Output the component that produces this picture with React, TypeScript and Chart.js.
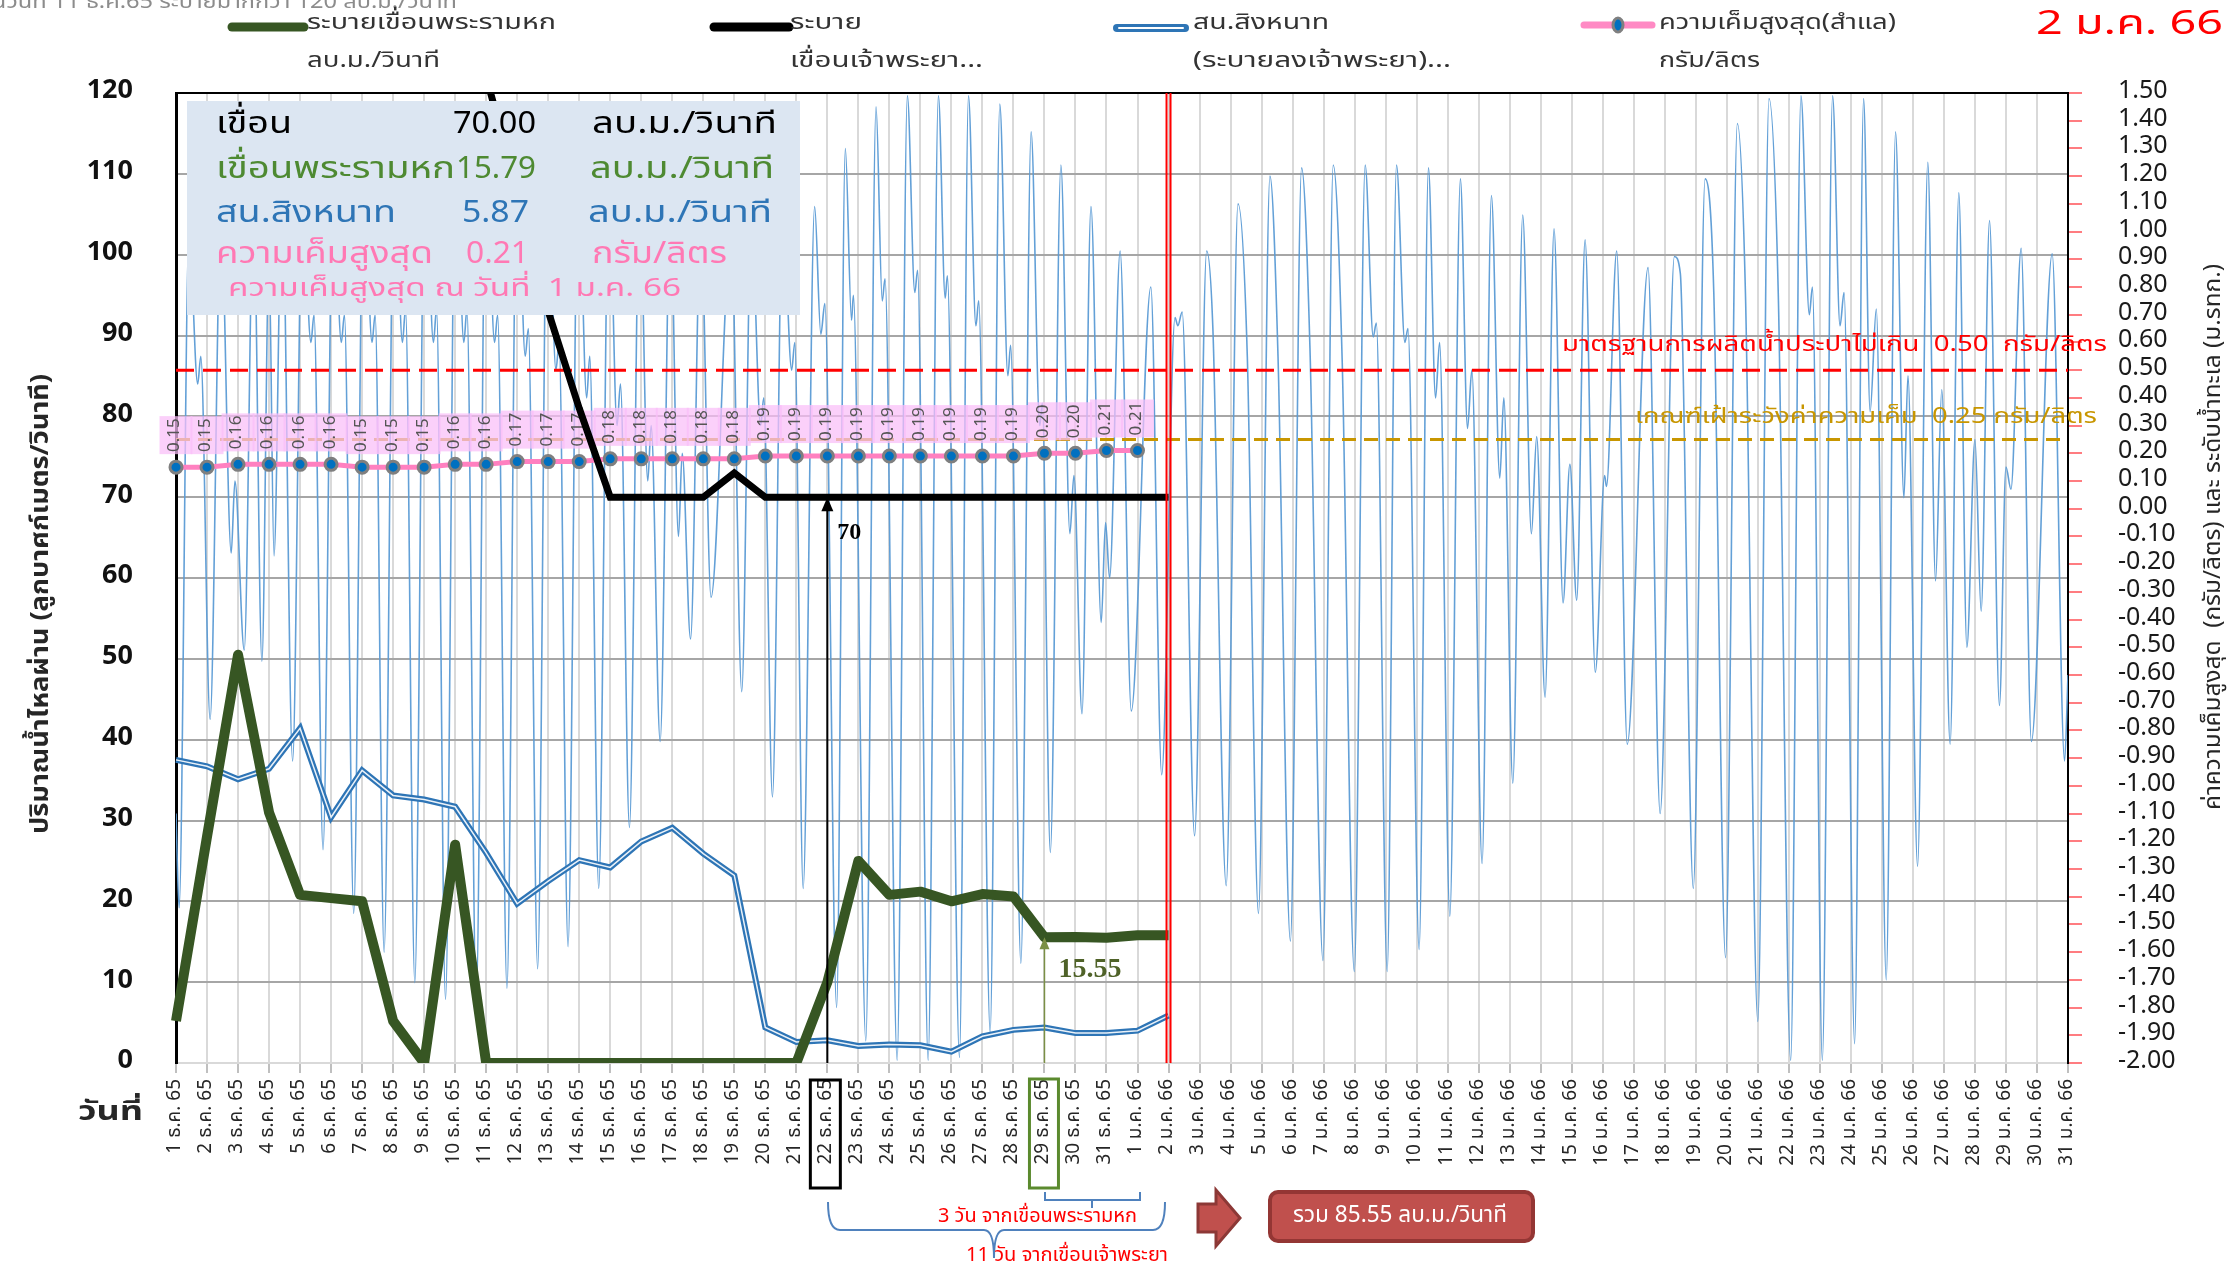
import React, { useEffect, useRef } from "react";
import { Chart, registerables } from "chart.js";

Chart.register(...registerables);

const FONT = "Tahoma, 'Noto Sans Thai', 'Noto Sans', 'DejaVu Sans', sans-serif";
const SERIF = "'Liberation Serif', 'DejaVu Serif', serif";

const dayLabels = [
  "1 ธ.ค. 65", "2 ธ.ค. 65", "3 ธ.ค. 65", "4 ธ.ค. 65", "5 ธ.ค. 65", "6 ธ.ค. 65", "7 ธ.ค. 65", "8 ธ.ค. 65",
  "9 ธ.ค. 65", "10 ธ.ค. 65", "11 ธ.ค. 65", "12 ธ.ค. 65", "13 ธ.ค. 65", "14 ธ.ค. 65", "15 ธ.ค. 65", "16 ธ.ค. 65",
  "17 ธ.ค. 65", "18 ธ.ค. 65", "19 ธ.ค. 65", "20 ธ.ค. 65", "21 ธ.ค. 65", "22 ธ.ค. 65", "23 ธ.ค. 65", "24 ธ.ค. 65",
  "25 ธ.ค. 65", "26 ธ.ค. 65", "27 ธ.ค. 65", "28 ธ.ค. 65", "29 ธ.ค. 65", "30 ธ.ค. 65", "31 ธ.ค. 65",
  "1 ม.ค. 66", "2 ม.ค. 66", "3 ม.ค. 66", "4 ม.ค. 66", "5 ม.ค. 66", "6 ม.ค. 66", "7 ม.ค. 66", "8 ม.ค. 66",
  "9 ม.ค. 66", "10 ม.ค. 66", "11 ม.ค. 66", "12 ม.ค. 66", "13 ม.ค. 66", "14 ม.ค. 66", "15 ม.ค. 66", "16 ม.ค. 66",
  "17 ม.ค. 66", "18 ม.ค. 66", "19 ม.ค. 66", "20 ม.ค. 66", "21 ม.ค. 66", "22 ม.ค. 66", "23 ม.ค. 66", "24 ม.ค. 66",
  "25 ม.ค. 66", "26 ม.ค. 66", "27 ม.ค. 66", "28 ม.ค. 66", "29 ม.ค. 66", "30 ม.ค. 66", "31 ม.ค. 66",
];

// Left axis (m3/s)
const chaoPhrayaDam = [
  null, null, null, null, null, null, null, null, null, null,
  122, 108, 93, 81, 70, 70, 70, 70, 73, 70, 70, 70, 70, 70, 70, 70, 70, 70, 70, 70, 70, 70, 70,
];
const phraRamHokDam = [
  5.2, 28, 50.5, 31, 20.8, 20.4, 20, 5.2, 0, 27, 0, 0, 0, 0, 0, 0, 0, 0, 0, 0, 0,
  10, 25, 20.8, 21.2, 20.0, 20.9, 20.6, 15.55, 15.6, 15.5, 15.8, 15.79,
];
const singhanat = [
  37.5, 36.7, 35.1, 36.4, 41.4, 30.4, 36.2, 33.1, 32.6, 31.7, 26.0, 19.7, 22.5, 25.1, 24.2, 27.4, 29.1,
  25.9, 23.2, 4.4, 2.6, 2.8, 2.1, 2.3, 2.2, 1.4, 3.3, 4.1, 4.4, 3.7, 3.7, 4.0, 5.87,
];
// Right axis (g/l)
const salinity = [
  0.15, 0.15, 0.16, 0.16, 0.16, 0.16, 0.15, 0.15, 0.15, 0.16, 0.16, 0.17, 0.17, 0.17, 0.18, 0.18,
  0.18, 0.18, 0.18, 0.19, 0.19, 0.19, 0.19, 0.19, 0.19, 0.19, 0.19, 0.19, 0.20, 0.20, 0.21, 0.21,
];
// Sea level (m MSL), day position (0 = 1 Dec) and level
const tideX = [
  0.0, 0.1, 0.42, 0.7, 0.8, 1.1, 1.45, 1.78, 1.9, 2.2, 2.5, 2.77, 3.0, 3.16, 3.42, 3.76,
  4.08, 4.35, 4.45, 4.74, 5.07, 5.33, 5.43, 5.73, 6.05, 6.32, 6.42, 6.71, 7.04, 7.3, 7.4, 7.7,
  8.03, 8.3, 8.4, 8.69, 9.02, 9.28, 9.38, 9.68, 10.0, 10.27, 10.37, 10.67, 11.0, 11.26, 11.36, 11.66,
  11.98, 12.25, 12.35, 12.64, 12.97, 13.24, 13.34, 13.63, 13.96, 14.22, 14.33, 14.62, 14.95, 15.21, 15.32, 15.61,
  15.94, 16.2, 16.32, 16.59, 16.92, 17.25, 17.9, 18.24, 18.55, 18.85, 18.95, 19.23, 19.56, 19.85, 19.95, 20.22,
  20.59, 20.79, 20.92, 21.3, 21.58, 21.78, 21.84, 22.24, 22.57, 22.77, 22.86, 23.25, 23.58, 23.82, 23.91, 24.25,
  24.58, 24.8, 24.87, 25.26, 25.55, 25.79, 25.88, 26.25, 26.56, 26.82, 26.91, 27.24, 27.57, 27.85, 27.93, 28.19,
  28.53, 28.82, 28.95, 29.21, 29.5, 29.83, 29.97, 30.1, 30.44, 30.8, 31.43, 31.78, 32.21, 32.3, 32.44, 32.84,
  33.23, 33.43, 33.86, 34.24, 34.54, 34.9, 35.27, 35.53, 35.93, 36.29, 36.56, 36.98, 37.31, 37.6, 37.99, 38.34,
  38.6, 38.7, 39.05, 39.35, 39.62, 39.72, 40.08, 40.38, 40.61, 40.74, 41.07, 41.41, 41.64, 41.78, 42.11, 42.41,
  42.68, 42.81, 43.1, 43.42, 43.7, 43.87, 44.14, 44.43, 44.72, 44.94, 45.16, 45.43, 45.76, 46.06, 46.12, 46.45,
  46.79, 47.46, 47.85, 48.31, 48.5, 48.92, 49.3, 49.58, 49.96, 50.34, 50.6, 51.0, 51.36, 51.66, 52.06, 52.39,
  52.66, 52.76, 53.08, 53.41, 53.65, 53.78, 54.12, 54.41, 54.62, 54.82, 55.14, 55.44, 55.71, 55.84, 56.15, 56.48,
  56.73, 56.93, 57.2, 57.48, 57.74, 58.0, 58.2, 58.47, 58.79, 59.0, 59.16, 59.49, 59.82, 60.49, 60.89, 61.0,
];
const tideY = [
  -1.1, -1.44, 1.0, 0.45, 0.55, -0.76, 1.05, -0.16, 0.1, -0.51, 1.1, -0.55, 0.9, -0.17, 1.15, -0.91,
  1.15, 0.6, 0.7, -1.23, 1.2, 0.6, 0.7, -1.46, 1.25, 0.6, 0.7, -1.6, 1.3, 0.6, 0.72, -1.71,
  1.3, 0.6, 0.72, -1.77, 1.35, 0.6, 0.72, -1.78, 1.35, 0.6, 0.7, -1.73, 1.3, 0.55, 0.65, -1.66,
  1.3, 0.5, 0.6, -1.58, 1.25, 0.4, 0.55, -1.37, 1.2, 0.3, 0.45, -1.15, 1.15, 0.1, 0.3, -0.84,
  1.1, -0.1, 0.2, -0.47, 1.05, -0.32, 1.0, -0.66, 1.05, 0.3, 0.4, -1.04, 1.1, 0.5, 0.6, -1.37,
  1.09, 0.63, 0.74, -1.8, 1.3, 0.68, 0.77, -1.92, 1.45, 0.75, 0.83, -1.99, 1.49, 0.78, 0.86, -1.99,
  1.49, 0.76, 0.84, -1.98, 1.49, 0.66, 0.75, -1.89, 1.46, 0.48, 0.59, -1.64, 1.36, 0.3, 0.38, -1.24,
  1.24, -0.09, 0.12, -0.74, 1.09, -0.41, -0.05, -0.25, 0.93, -0.73, 0.8, -0.96, 0.69, 0.66, 0.71, -1.18,
  0.93, 0.65, -1.36, 1.1, 0.55, -1.46, 1.2, 0.55, -1.56, 1.23, 0.58, -1.63, 1.24, 0.53, -1.67, 1.24,
  0.62, 0.67, -1.67, 1.24, 0.6, 0.65, -1.59, 1.23, 0.4, 0.6, -1.47, 1.19, 0.29, 0.5, -1.28, 1.13,
  0.11, 0.4, -0.99, 1.06, -0.09, 0.26, -0.68, 1.01, -0.34, 0.16, -0.33, 0.97, -0.59, 0.12, 0.08, 0.93,
  -0.85, 0.87, -1.1, 0.91, 0.85, -1.37, 1.19, 0.78, -1.62, 1.39, 0.78, -1.85, 1.48, 0.77, -1.99, 1.49,
  0.7, 0.8, -1.99, 1.49, 0.66, 0.78, -1.93, 1.48, 0.35, 0.72, -1.7, 1.36, 0.04, 0.48, -1.29, 1.25,
  -0.26, 0.43, -0.85, 1.14, -0.5, 0.25, -0.37, 1.04, -0.71, 0.15, 0.07, 0.94, -0.84, 0.92, -0.91, -0.6,
];

const yTicksLeft = [0, 120, 10];
const yTicksRight = [-2, 1.5, 0.1];
const thresholdStd = 0.5;
const thresholdWatch = 0.25;
const todayIndex = 32;
const chaoPhrayaMarkIndex = 21;
const ramHokMarkIndex = 28;

const infoRows = [
  { name: "เขื่อน", value: "70.00", unit: "ลบ.ม./วินาที", color: "#000000" },
  { name: "เขื่อนพระรามหก", value: "15.79", unit: "ลบ.ม./วินาที", color: "#4E8A32" },
  { name: "สน.สิงหนาท", value: "5.87", unit: "ลบ.ม./วินาที", color: "#2E75B6" },
  { name: "ความเค็มสูงสุด", value: "0.21", unit: "กรัม/ลิตร", color: "#FF79B4" },
];

function fitText(ctx: any, text: string, x: number, y: number, w: number, align: string = "left") {
  const m = ctx.measureText(text).width;
  const sx = m > 0 ? w / m : 1;
  let x0 = x;
  if (align === "center") x0 = x - w / 2;
  else if (align === "right") x0 = x - w;
  ctx.save();
  ctx.textAlign = "left";
  ctx.translate(x0, y);
  ctx.scale(sx, 1);
  ctx.fillText(text, 0, 0);
  ctx.restore();
}

function drawArrow(ctx: any, x: number, y0: number, y1: number, color: string, lw: number, hw: number, hl: number) {
  ctx.save();
  ctx.strokeStyle = color;
  ctx.fillStyle = color;
  ctx.lineWidth = lw;
  ctx.beginPath();
  ctx.moveTo(x, y0);
  ctx.lineTo(x, y1 + hl - 1);
  ctx.stroke();
  ctx.beginPath();
  ctx.moveTo(x, y1);
  ctx.lineTo(x - hw, y1 + hl);
  ctx.lineTo(x + hw, y1 + hl);
  ctx.closePath();
  ctx.fill();
  ctx.restore();
}

const overlayPlugin = {
  id: "overlay",
  beforeDraw(chart: any) {
    const { ctx, width, height } = chart;
    ctx.save();
    ctx.fillStyle = "#ffffff";
    ctx.fillRect(0, 0, width, height);
    ctx.restore();
  },
  afterDatasetDraw(chart: any, args: any) {
    const { ctx, chartArea } = chart;
    const yR = chart.scales.y2;
    const xs = chart.scales.x;
    if (args.index === 5) {
      ctx.save();
      ctx.lineWidth = 3;
      ctx.setLineDash([18, 9]);
      ctx.strokeStyle = "#FF0000";
      let y = yR.getPixelForValue(thresholdStd);
      ctx.beginPath();
      ctx.moveTo(chartArea.left, y);
      ctx.lineTo(chartArea.right, y);
      ctx.stroke();
      ctx.strokeStyle = "#C89600";
      ctx.setLineDash([14, 8]);
      y = yR.getPixelForValue(thresholdWatch);
      ctx.beginPath();
      ctx.moveTo(chartArea.left, y);
      ctx.lineTo(chartArea.right, y);
      ctx.stroke();
      ctx.restore();
    }
    if (args.index === 1) {
      ctx.save();
      salinity.forEach((v, i) => {
        const cx = xs.getPixelForValue(i);
        const cy = yR.getPixelForValue(v);
        const bw = 33, bh = 38;
        const bottom = cy - 13;
        ctx.fillStyle = "rgba(250, 190, 248, 0.72)";
        ctx.fillRect(cx - bw / 2, bottom - bh, bw, bh);
        ctx.save();
        ctx.translate(cx, bottom - bh / 2);
        ctx.rotate(-Math.PI / 2);
        ctx.fillStyle = "#555555";
        ctx.font = `17px ${FONT}`;
        ctx.textAlign = "center";
        ctx.textBaseline = "middle";
        ctx.fillText(v.toFixed(2), 0, 0);
        ctx.restore();
      });
      ctx.restore();
    }
  },
  afterDatasetsDraw(chart: any) {
    const { ctx, chartArea } = chart;
    const xs = chart.scales.x;
    const yL = chart.scales.y;
    ctx.save();
    ctx.strokeStyle = "#000";
    ctx.lineWidth = 2;
    ctx.beginPath();
    ctx.moveTo(chartArea.left, chartArea.top);
    ctx.lineTo(chartArea.right, chartArea.top);
    ctx.stroke();
    const xt = xs.getPixelForValue(todayIndex);
    ctx.strokeStyle = "#FF0000";
    ctx.lineWidth = 2;
    [-2, 2].forEach((d) => {
      ctx.beginPath();
      ctx.moveTo(xt + d, chartArea.top);
      ctx.lineTo(xt + d, chartArea.bottom);
      ctx.stroke();
    });
    ctx.restore();

    const xa = xs.getPixelForValue(chaoPhrayaMarkIndex);
    drawArrow(ctx, xa, chartArea.bottom, yL.getPixelForValue(70), "#000000", 2, 6, 14);
    const xg = xs.getPixelForValue(ramHokMarkIndex);
    drawArrow(ctx, xg, chartArea.bottom, yL.getPixelForValue(phraRamHokDam[ramHokMarkIndex]), "#7A8F45", 1.5, 5, 12);
    ctx.save();
    ctx.font = `bold 24px ${SERIF}`;
    ctx.fillStyle = "#000";
    ctx.textBaseline = "middle";
    ctx.fillText("70", xa + 10, yL.getPixelForValue(70) + 36);
    ctx.font = `bold 28px ${SERIF}`;
    ctx.fillStyle = "#4F6228";
    ctx.fillText(phraRamHokDam[ramHokMarkIndex].toFixed(2), xg + 14, yL.getPixelForValue(phraRamHokDam[ramHokMarkIndex]) + 32);
    ctx.restore();

    // info box
    ctx.save();
    ctx.fillStyle = "#DCE6F2";
    ctx.fillRect(187, 101, 613, 214);
    ctx.textBaseline = "middle";
    const rowY = [127, 172, 216, 257];
    const nameW = [76, 239, 180, 217];
    const valX = [453, 456, 462, 466];
    const valW = [83, 80, 67, 63];
    const unitX = [592, 590, 588, 592];
    const unitW = [185, 184, 184, 135];
    infoRows.forEach((r, i) => {
      ctx.fillStyle = r.color;
      ctx.font = `31px ${FONT}`;
      fitText(ctx, r.name, 216, rowY[i], nameW[i]);
      fitText(ctx, r.value, valX[i], rowY[i], valW[i]);
      fitText(ctx, r.unit, unitX[i], rowY[i], unitW[i]);
    });
    ctx.fillStyle = "#FF79B4";
    ctx.font = `25px ${FONT}`;
    fitText(ctx, "ความเค็มสูงสุด ณ วันที่  1 ม.ค. 66", 228, 291, 453);
    ctx.restore();
  },
  afterDraw(chart: any) {
    const { ctx } = chart;
    const xs = chart.scales.x;
    ctx.save();
    ctx.textBaseline = "middle";

    ctx.font = `22px ${FONT}`;
    ctx.fillStyle = "#FF0000";
    fitText(ctx, "มาตรฐานการผลิตน้ำประปาไม่เกิน  0.50  กรัม/ลิตร", 2107, 347, 545, "right");
    ctx.fillStyle = "#C89600";
    fitText(ctx, "เกณฑ์เฝ้าระวังค่าความเค็ม  0.25 กรัม/ลิตร", 2097, 419, 462, "right");

    ctx.font = `20px ${FONT}`;
    ctx.fillStyle = "#8C8C8C";
    ctx.textBaseline = "alphabetic";
    fitText(ctx, "ในวันที่ 11 ธ.ค.65 ระบายมากกว่า 120 ลบ.ม./วินาที", 457, 8, 472, "right");
    ctx.textBaseline = "middle";

    const leg = [
      { x0: 232, x1: 304, tx: 307, l1: "ระบายเขื่อนพระรามหก", w1: 249, l2: "ลบ.ม./วินาที", w2: 133, kind: "green" },
      { x0: 714, x1: 789, tx: 790, l1: "ระบาย", w1: 72, l2: "เขื่อนเจ้าพระยา...", w2: 193, kind: "black" },
      { x0: 1117, x1: 1185, tx: 1193, l1: "สน.สิงหนาท", w1: 136, l2: "(ระบายลงเจ้าพระยา)...", w2: 258, kind: "blue" },
      { x0: 1584, x1: 1652, tx: 1659, l1: "ความเค็มสูงสุด(สำแล)", w1: 237, l2: "กรัม/ลิตร", w2: 101, kind: "pink" },
    ];
    leg.forEach((it) => {
      ctx.lineCap = "round";
      if (it.kind === "green" || it.kind === "black") {
        ctx.strokeStyle = it.kind === "green" ? "#375623" : "#000000";
        ctx.lineWidth = 9;
        ctx.beginPath(); ctx.moveTo(it.x0, 27); ctx.lineTo(it.x1, 27); ctx.stroke();
      } else if (it.kind === "blue") {
        ctx.strokeStyle = "#2E75B6"; ctx.lineWidth = 8;
        ctx.beginPath(); ctx.moveTo(it.x0, 28); ctx.lineTo(it.x1, 28); ctx.stroke();
        ctx.strokeStyle = "#ffffff"; ctx.lineWidth = 2;
        ctx.beginPath(); ctx.moveTo(it.x0 + 2, 28); ctx.lineTo(it.x1 - 2, 28); ctx.stroke();
      } else {
        ctx.strokeStyle = "#FF8AC4"; ctx.lineWidth = 7;
        ctx.beginPath(); ctx.moveTo(it.x0, 25); ctx.lineTo(it.x1, 25); ctx.stroke();
        ctx.fillStyle = "#0070C0"; ctx.strokeStyle = "#808080"; ctx.lineWidth = 3;
        ctx.beginPath(); ctx.ellipse((it.x0 + it.x1) / 2, 25, 5, 7, 0, 0, Math.PI * 2); ctx.fill(); ctx.stroke();
      }
      ctx.fillStyle = "#333333";
      ctx.font = `22px ${FONT}`;
      fitText(ctx, it.l1, it.tx, 25, it.w1);
      fitText(ctx, it.l2, it.tx, 63, it.w2);
    });
    ctx.lineCap = "butt";

    ctx.fillStyle = "#FF0000";
    ctx.font = `33px ${FONT}`;
    fitText(ctx, "2 ม.ค. 66", 2036, 27, 187);

    ctx.save();
    ctx.translate(43, 604);
    ctx.rotate(-Math.PI / 2);
    ctx.fillStyle = "#262626";
    ctx.font = `bold 25px ${FONT}`;
    fitText(ctx, "ปริมาณน้ำไหลผ่าน (ลูกบาศก์เมตร/วินาที)", 0, 0, 460, "center");
    ctx.restore();
    ctx.save();
    ctx.translate(2215, 537);
    ctx.rotate(-Math.PI / 2);
    ctx.fillStyle = "#262626";
    ctx.font = `23px ${FONT}`;
    fitText(ctx, "ค่าความเค็มสูงสุด  (กรัม/ลิตร) และ ระดับน้ำทะเล (ม.รทก.)", 0, 0, 546, "center");
    ctx.restore();

    ctx.fillStyle = "#262626";
    ctx.font = `bold 26px ${FONT}`;
    fitText(ctx, "วันที่", 78, 1115, 65);

    const xa = xs.getPixelForValue(chaoPhrayaMarkIndex);
    const xg = xs.getPixelForValue(ramHokMarkIndex);
    ctx.lineWidth = 3;
    ctx.strokeStyle = "#000";
    ctx.strokeRect(xa - 17, 1080, 30, 108);
    ctx.strokeStyle = "#5B8A2E";
    ctx.strokeRect(xg - 15, 1079, 29, 109);

    ctx.strokeStyle = "#4F81BD";
    ctx.lineWidth = 2;
    ctx.beginPath();
    ctx.moveTo(1045, 1192); ctx.lineTo(1045, 1200); ctx.lineTo(1140, 1200); ctx.lineTo(1140, 1192);
    ctx.moveTo(1092, 1200); ctx.lineTo(1092, 1208);
    ctx.stroke();
    ctx.beginPath();
    ctx.moveTo(828, 1202);
    ctx.quadraticCurveTo(828, 1230, 840, 1230);
    ctx.lineTo(984, 1230);
    ctx.quadraticCurveTo(994, 1230, 994, 1258);
    ctx.quadraticCurveTo(994, 1230, 1004, 1230);
    ctx.lineTo(1153, 1230);
    ctx.quadraticCurveTo(1165, 1230, 1165, 1202);
    ctx.stroke();

    ctx.fillStyle = "#FF0000";
    ctx.font = `19px ${FONT}`;
    fitText(ctx, "3 วัน จากเขื่อนพระรามหก", 938, 1218, 199);
    fitText(ctx, "11 วัน จากเขื่อนเจ้าพระยา", 966, 1257, 202);

    ctx.fillStyle = "#C0504D";
    ctx.strokeStyle = "#8C3836";
    ctx.lineWidth = 3;
    ctx.beginPath();
    ctx.moveTo(1198, 1204); ctx.lineTo(1216, 1204); ctx.lineTo(1216, 1190);
    ctx.lineTo(1240, 1218); ctx.lineTo(1216, 1246); ctx.lineTo(1216, 1232);
    ctx.lineTo(1198, 1232); ctx.closePath();
    ctx.fill(); ctx.stroke();

    ctx.beginPath();
    ctx.roundRect(1270, 1192, 263, 49, 8);
    ctx.fillStyle = "#C0504D";
    ctx.fill();
    ctx.strokeStyle = "#943634";
    ctx.lineWidth = 4;
    ctx.stroke();
    ctx.fillStyle = "#FFFFFF";
    ctx.font = `23px ${FONT}`;
    fitText(ctx, "รวม 85.55 ลบ.ม./วินาที", 1400, 1217, 214, "center");
    ctx.restore();
  },
};

export default function App() {
  const ref = useRef<HTMLCanvasElement | null>(null);
  useEffect(() => {
    if (!ref.current) return;
    Chart.defaults.font.family = FONT;
    const tidePoints = tideX.map((x, i) => ({ x, y: tideY[i] }));
    const chart = new Chart(ref.current, {
      type: "line",
      data: {
        labels: dayLabels,
        datasets: [
          {
            label: "ระบาย เขื่อนเจ้าพระยา",
            data: chaoPhrayaDam,
            borderColor: "#000000",
            borderWidth: 7,
            pointRadius: 0,
            yAxisID: "y",
            xAxisID: "x",
            order: 0,
            borderJoinStyle: "miter",
          },
          {
            label: "ความเค็มสูงสุด(สำแล)",
            data: salinity,
            borderColor: "#FF80C0",
            borderWidth: 5,
            pointRadius: 6,
            pointBackgroundColor: "#0070C0",
            pointBorderColor: "#7F7F7F",
            pointBorderWidth: 3,
            yAxisID: "y2",
            xAxisID: "x",
            order: 1,
          },
          {
            label: "ระบายเขื่อนพระรามหก",
            data: phraRamHokDam,
            borderColor: "#375623",
            borderWidth: 10,
            pointRadius: 0,
            yAxisID: "y",
            xAxisID: "x",
            order: 2,
            borderJoinStyle: "round",
          },
          {
            label: "สน.สิงหนาท (inner)",
            data: singhanat,
            borderColor: "rgba(255,255,255,0.9)",
            borderWidth: 1.5,
            pointRadius: 0,
            yAxisID: "y",
            xAxisID: "x",
            order: 3,
          },
          {
            label: "สน.สิงหนาท",
            data: singhanat,
            borderColor: "#2E75B6",
            borderWidth: 6,
            pointRadius: 0,
            yAxisID: "y",
            xAxisID: "x",
            order: 4,
          },
          {
            label: "ระดับน้ำทะเล",
            data: tidePoints,
            borderColor: "rgba(91,155,213,0.95)",
            borderWidth: 1.6,
            pointRadius: 0,
            yAxisID: "y2",
            xAxisID: "xt",
            order: 5,
            cubicInterpolationMode: "monotone",
          },
        ],
      },
      options: {
        responsive: false,
        animation: false,
        devicePixelRatio: 1,
        layout: { padding: { top: 93, left: 0, right: 0, bottom: 0 } },
        plugins: { legend: { display: false }, tooltip: { enabled: false } },
        scales: {
          x: {
            type: "category",
            position: "bottom",
            offset: false,
            grid: { color: "#D9D9D9", lineWidth: 2, tickLength: 10, tickColor: "#BFBFBF", offset: false },
            border: { color: "#D9D9D9", width: 2 },
            ticks: {
              autoSkip: false,
              maxRotation: 90,
              minRotation: 90,
              color: "#262626",
              font: { size: 19, family: FONT },
              padding: 6,
            },
            afterFit: (s: any) => { s.height = 202; },
          },
          xt: { type: "linear", display: false, min: 0, max: 61 },
          y: {
            position: "left",
            min: yTicksLeft[0],
            max: yTicksLeft[1],
            ticks: { stepSize: yTicksLeft[2], color: "#111111", font: { size: 27, weight: "bold", family: FONT }, padding: 43 },
            grid: { color: "#A6A6A6", lineWidth: 2, drawTicks: false },
            border: { color: "#000000", width: 3 },
            afterFit: (s: any) => { s.width = 176; },
          },
          y2: {
            position: "right",
            min: yTicksRight[0],
            max: yTicksRight[1],
            ticks: {
              stepSize: yTicksRight[2],
              autoSkip: false,
              color: "#1A1A1A",
              font: { size: 25, family: FONT },
              padding: 36,
              callback: (v: any) => Number(v).toFixed(2),
            },
            grid: { drawOnChartArea: false, color: "#FF7C80", tickLength: 14, lineWidth: 2 },
            border: { color: "#000000", width: 2 },
            afterFit: (s: any) => { s.width = 168; },
          },
        },
      },
      plugins: [overlayPlugin],
    } as any);
    return () => chart.destroy();
  }, []);
  return (
    <div style={{ position: "fixed", left: 0, top: 0, width: 2236, height: 1265, background: "#fff" }}>
      <canvas ref={ref} width={2236} height={1265} style={{ display: "block", width: 2236, height: 1265 }} />
    </div>
  );
}
